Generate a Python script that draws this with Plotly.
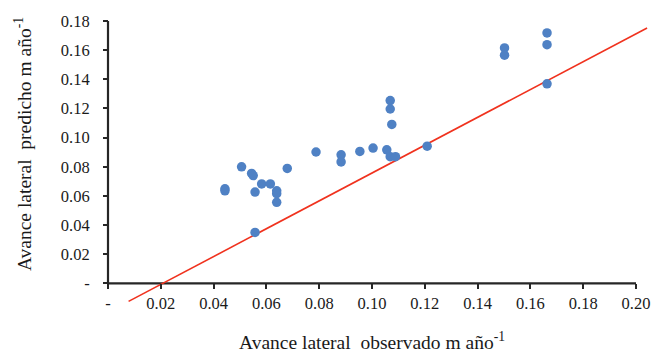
import plotly.graph_objects as go

# Observed vs predicted lateral advance (m/año)
observed = [0.0506, 0.0544, 0.0550, 0.0679, 0.0443, 0.0443, 0.0582, 0.0615, 0.0557, 0.0639,
            0.0639, 0.0639, 0.0557, 0.0788, 0.1069, 0.1069, 0.1075, 0.0883, 0.0883, 0.0954,
            0.1004, 0.1056, 0.1069, 0.1089, 0.1209, 0.1502, 0.1502, 0.1663, 0.1663, 0.1663]
predicted = [0.0799, 0.0754, 0.0739, 0.0788, 0.0649, 0.0635, 0.0682, 0.0682, 0.0626, 0.0635,
             0.0615, 0.0556, 0.0349, 0.0901, 0.1254, 0.1196, 0.1090, 0.0882, 0.0833, 0.0905,
             0.0928, 0.0916, 0.0869, 0.0869, 0.0941, 0.1615, 0.1565, 0.1718, 0.1637, 0.1369]

# Red reference line (estimated end points)
line_x = [0.0078, 0.2042]
line_y = [-0.0124, 0.1752]

x_tickvals = [0, 0.02, 0.04, 0.06, 0.08, 0.10, 0.12, 0.14, 0.16, 0.18, 0.20]
x_ticktext = ["-", "0.02", "0.04", "0.06", "0.08", "0.10", "0.12", "0.14", "0.16", "0.18", "0.20"]
y_tickvals = [0, 0.02, 0.04, 0.06, 0.08, 0.10, 0.12, 0.14, 0.16, 0.18]
y_ticktext = ["-", "0.02", "0.04", "0.06", "0.08", "0.10", "0.12", "0.14", "0.16", "0.18"]

x_title = "Avance lateral\u00a0 observado m año<sup>-1</sup>"
y_title = "Avance lateral\u00a0 predicho m año<sup>-1</sup>"

FONT = "Liberation Serif"
TXT = "#1a1a1a"
AXC = "#262626"

# ---- layout geometry (pixels) ----
W, H = 662, 353
x_min, x_max = 0.0, 0.20
y_min, y_max = 0.0, 0.18
px_per_x = 528 / (x_max - x_min)
px_per_y = 266.4 / (y_max - y_min)
pad_l, pad_r, pad_b, pad_t = 3, 14, 22, 2
left_px, top_px = 108, 17

xr = [x_min - pad_l / px_per_x, x_max + pad_r / px_per_x]
yr = [y_min - pad_b / px_per_y, y_max + pad_t / px_per_y]
plot_w = (xr[1] - xr[0]) * px_per_x
plot_h = (yr[1] - yr[0]) * px_per_y
ml = left_px - pad_l
mt = top_px - pad_t
mr = W - ml - plot_w
mb = H - mt - plot_h

x_axis_pos = (y_min - yr[0]) / (yr[1] - yr[0])
y_axis_pos = (x_min - xr[0]) / (xr[1] - xr[0])

fig = go.Figure()

# axis lines as line traces (drawn first, below the data)
fig.add_trace(go.Scatter(x=[x_min, x_max], y=[y_min, y_min], mode="lines",
                         line=dict(color=AXC, width=2.2),
                         hoverinfo="skip", showlegend=False))
fig.add_trace(go.Scatter(x=[x_min, x_min], y=[y_min, y_max], mode="lines",
                         line=dict(color=AXC, width=2.2),
                         hoverinfo="skip", showlegend=False))

fig.add_trace(go.Scatter(
    x=line_x, y=line_y, mode="lines",
    line=dict(color="#F0321E", width=1.6),
    hoverinfo="skip", showlegend=False))

fig.add_trace(go.Scatter(
    x=observed, y=predicted, mode="markers",
    marker=dict(color="#4F81C4", size=9.5, line=dict(width=0)),
    showlegend=False, cliponaxis=False))

axis_common = dict(
    showgrid=False, zeroline=False, showline=False,
    ticks="outside", ticklen=5, tickwidth=1.8, tickcolor=AXC,
    tickfont=dict(family=FONT, size=16.5, color=TXT),
)

fig.update_layout(
    width=W, height=H,
    margin=dict(l=ml, r=mr, t=mt, b=mb, pad=0),
    plot_bgcolor="white", paper_bgcolor="white",
    font=dict(family=FONT, color=TXT),
    xaxis=dict(range=xr, domain=[0, 1], anchor="free", position=x_axis_pos,
               tickvals=x_tickvals, ticktext=x_ticktext, ticklabelstandoff=0, **axis_common),
    yaxis=dict(range=yr, domain=[0, 1], anchor="free", position=y_axis_pos,
               tickvals=y_tickvals, ticktext=y_ticktext, ticklabelstandoff=10, **axis_common),
    annotations=[
        dict(text=x_title, xref="paper", yref="paper",
             x=(372 - ml) / plot_w, y=(mt + plot_h - 342) / plot_h,
             xanchor="center", yanchor="middle", showarrow=False,
             font=dict(family=FONT, size=19.5, color=TXT)),
        dict(text=y_title, xref="paper", yref="paper",
             x=(23 - ml) / plot_w, y=(mt + plot_h - 142) / plot_h,
             xanchor="center", yanchor="middle", textangle=-90, showarrow=False,
             font=dict(family=FONT, size=19.5, color=TXT)),
    ],
)

fig.write_html("out.html")
